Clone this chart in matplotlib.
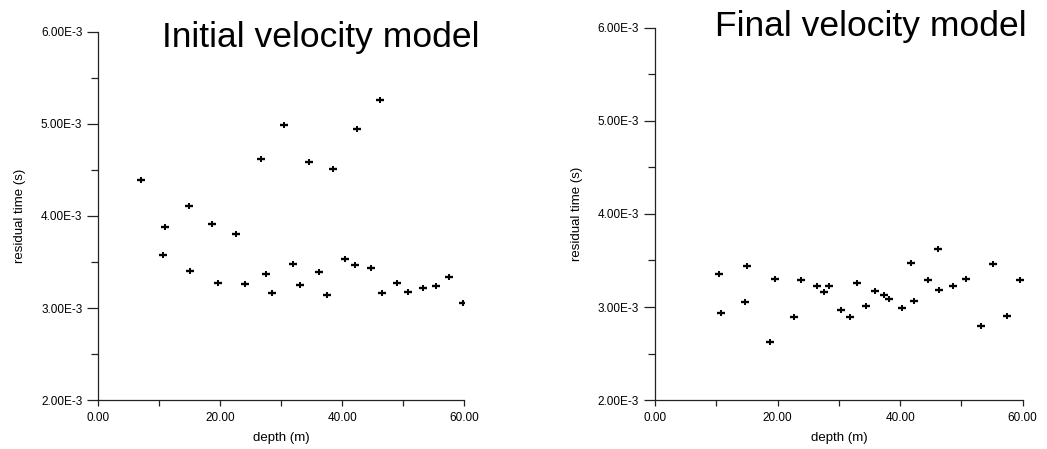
import matplotlib
matplotlib.use("Agg")
import matplotlib.pyplot as plt
from matplotlib.ticker import FixedLocator, FuncFormatter

plt.rcParams["font.family"] = ["Liberation Sans", "DejaVu Sans"]

# ---------- данные ----------
init_depth = [7.0, 10.9, 10.6, 14.9, 15.1, 18.7, 19.6, 22.6, 24.0, 26.6,
              27.5, 28.5, 30.5, 31.9, 33.0, 34.5, 36.1, 37.5, 38.4, 40.4,
              42.0, 42.4, 44.7, 46.2, 46.5, 48.9, 50.7, 53.2, 55.3, 57.5,
              59.7]
init_resid = [4.39e-3, 3.88e-3, 3.575e-3, 4.105e-3, 3.405e-3, 3.915e-3, 3.27e-3,
              3.80e-3, 3.26e-3, 4.615e-3, 3.365e-3, 3.165e-3, 4.985e-3, 3.475e-3,
              3.255e-3, 4.59e-3, 3.39e-3, 3.145e-3, 4.505e-3, 3.535e-3, 3.47e-3,
              4.945e-3, 3.44e-3, 5.26e-3, 3.16e-3, 3.275e-3, 3.175e-3, 3.22e-3,
              3.24e-3, 3.34e-3, 3.055e-3]

final_depth = [10.5, 10.8, 14.7, 15.0, 18.7, 19.6, 22.6, 23.9, 26.5, 27.5,
               28.4, 30.4, 31.8, 32.9, 34.4, 35.9, 37.3, 38.2, 40.3, 41.8,
               42.2, 44.6, 46.1, 46.3, 48.7, 50.8, 53.2, 55.1, 57.4, 59.6]
final_resid = [3.35e-3, 2.94e-3, 3.055e-3, 3.445e-3, 2.62e-3, 3.30e-3, 2.89e-3,
               3.285e-3, 3.23e-3, 3.16e-3, 3.23e-3, 2.965e-3, 2.89e-3, 3.26e-3,
               3.01e-3, 3.175e-3, 3.13e-3, 3.085e-3, 2.99e-3, 3.47e-3, 3.065e-3,
               3.285e-3, 3.62e-3, 3.18e-3, 3.23e-3, 3.305e-3, 2.80e-3, 3.465e-3,
               2.90e-3, 3.29e-3]

x_major = [0, 20, 40, 60]
x_minor = [10, 30, 50]
y_major = [2e-3, 3e-3, 4e-3, 5e-3, 6e-3]
y_minor = [2.5e-3, 3.5e-3, 4.5e-3, 5.5e-3]

AX_COLOR = "#222222"


def style_axes(ax):
    ax.set_xlim(0, 60)
    ax.set_ylim(2e-3, 6e-3)
    for side in ("top", "right"):
        ax.spines[side].set_visible(False)
    for side in ("left", "bottom"):
        ax.spines[side].set_color(AX_COLOR)
        ax.spines[side].set_linewidth(0.9)
    ax.xaxis.set_major_locator(FixedLocator(x_major))
    ax.xaxis.set_minor_locator(FixedLocator(x_minor))
    ax.yaxis.set_major_locator(FixedLocator(y_major))
    ax.yaxis.set_minor_locator(FixedLocator(y_minor))
    ax.xaxis.set_major_formatter(FuncFormatter(lambda v, p: f"{v:.2f}"))
    ax.yaxis.set_major_formatter(FuncFormatter(lambda v, p: f"{v * 1e3:.2f}E-3"))
    ax.tick_params(axis="x", which="both", length=4.5, width=0.9,
                   color=AX_COLOR, labelsize=8.5, pad=4)
    ax.tick_params(axis="y", which="major", length=8, width=0.9,
                   color=AX_COLOR, labelsize=8.5, pad=3.5)
    ax.tick_params(axis="y", which="minor", length=5, width=0.9, color=AX_COLOR)
    ax.set_xlabel("depth (m)", fontsize=9.5, labelpad=6)
    ax.set_ylabel("residual time (s)", fontsize=9.5, labelpad=10.5)


def draw_points(ax, x, y):
    # маркер: горизонтальная черта + короткая вертикальная
    ax.plot(x, y, ls="none", marker="_", ms=5.5, mew=1.7, color="black")
    ax.plot(x, y, ls="none", marker="|", ms=4.2, mew=1.4, color="black")


fig = plt.figure(figsize=(10.47, 4.49), dpi=100)

ax1 = fig.add_axes([0.0939, 0.109, 0.3496, 0.820])
draw_points(ax1, init_depth, init_resid)
style_axes(ax1)

ax2 = fig.add_axes([0.6256, 0.109, 0.3512, 0.829])
draw_points(ax2, final_depth, final_resid)
style_axes(ax2)

fig.text(162 / 1047, 1 - 47 / 449, "Initial velocity model",
         fontsize=25.5, ha="left", va="baseline")
fig.text(715 / 1047, 1 - 36 / 449, "Final velocity model",
         fontsize=25.5, ha="left", va="baseline")

fig.savefig("out.png", dpi=100)
